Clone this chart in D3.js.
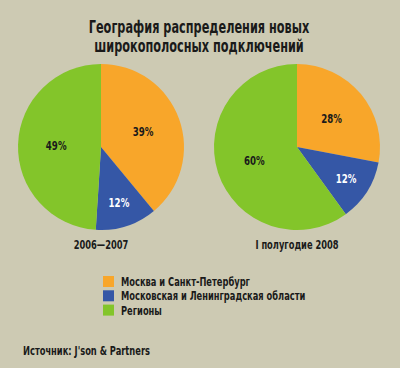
<!DOCTYPE html>
<html><head><meta charset="utf-8">
<script src="https://cdn.jsdelivr.net/npm/d3@7"></script>
<style>
html,body{margin:0;padding:0;background:#cdcab3;}
svg{display:block;}
text{font-family:"DejaVu Sans Condensed","DejaVu Sans",sans-serif;font-stretch:condensed;font-weight:bold;fill:#1a1a1a;}
</style></head>
<body>
<script>
const titleLines = ["География распределения новых", "широкополосных подключений"];
const categories = ["Москва и Санкт-Петербург", "Московская и Ленинградская области", "Регионы"];
const periods = ["2006—2007", "I полугодие 2008"];
const values2006 = [39, 12, 49];
const values2008 = [28, 12, 60];
const colors = ["#f8a62a", "#3557a6", "#83c52a"];
const source = "Источник: J'son & Partners";

const W = 400, H = 368, SX = 0.74;
const svg = d3.select("body").append("svg").attr("width", W).attr("height", H);
svg.append("rect").attr("width", W).attr("height", H).attr("fill", "#cdcab3");

function label(parent, x, y, txt, size, anchor) {
  return parent.append("text")
    .attr("transform", `translate(${x},${y}) scale(${SX},1)`)
    .attr("text-anchor", anchor || "start")
    .style("font-size", size + "px")
    .text(txt);
}

titleLines.forEach((t, i) => label(svg, 199, 33 + i * 19, t, 17, "middle"));

const R = 83;
const pie = d3.pie().sort(null).value(d => d);
const arc = d3.arc().innerRadius(0).outerRadius(R);
const centers = [[101, 147], [297, 147]];
[values2006, values2008].forEach((vals, pi) => {
  const g = svg.append("g").attr("transform", `translate(${centers[pi][0]},${centers[pi][1]})`);
  const arcs = pie(vals);
  g.selectAll("path").data(arcs).join("path")
    .attr("d", arc).attr("fill", (d, i) => colors[i]);
  arcs.forEach((d, i) => {
    const lr = d.data < 20 ? R * 0.7 : R * 0.54;
    const c = d3.arc().innerRadius(lr).outerRadius(lr).centroid(d);
    label(g, c[0], c[1] + 4.5, d.data + "%", 13, "middle")
      .style("fill", i === 1 ? "#ffffff" : "#1a1a1a");
  });
  label(g, 0, 249 - centers[pi][1], periods[pi], 12.5, "middle");
});

const leg = svg.append("g").attr("transform", "translate(103,276)");
categories.forEach((c, i) => {
  const row = leg.append("g").attr("transform", `translate(0,${i * 14.3})`);
  row.append("rect").attr("width", 11).attr("height", 11).attr("fill", colors[i]);
  label(row, 18, 10, c, 12.5);
});

label(svg, 23, 355, source, 12.5);
</script>
</body></html>
